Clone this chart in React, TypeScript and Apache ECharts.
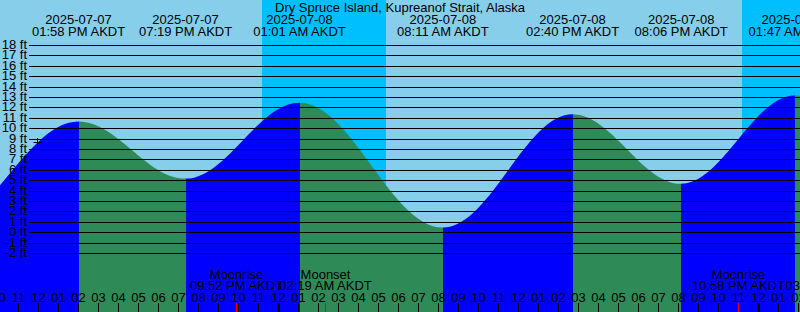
import React, { useEffect, useRef } from 'react';
import * as echarts from 'echarts';

const TITLE = 'Dry Spruce Island, Kupreanof Strait, Alaska';
const ZONE = 'AKDT';
const BASE_DAY = '2025-07-07';

// Tide extremes. The first two and the last one lie outside the window (estimated).
const TIDE_TIMES = [
  '2025-07-07 00:20',
  '2025-07-07 06:58',
  '2025-07-07 13:58',
  '2025-07-07 19:19',
  '2025-07-08 01:01',
  '2025-07-08 08:11',
  '2025-07-08 14:40',
  '2025-07-08 20:06',
  '2025-07-09 01:47',
  '2025-07-09 09:00',
];
const TIDE_FT = [12.0, 0.4, 10.7, 5.2, 12.5, 0.5, 11.4, 4.7, 13.2, -0.3];

const MOON_TIMES = ['2025-07-07 21:52', '2025-07-08 02:19', '2025-07-08 22:58', '2025-07-09 03:38'];
const MOON_EVENTS = ['Moonrise', 'Moonset', 'Moonrise', 'Moonset'];

const NIGHT_START = ['2025-07-07 23:08', '2025-07-08 23:08'];
const NIGHT_END = ['2025-07-08 05:20', '2025-07-09 05:22'];

const NOW_TIME = '2025-07-07 11:55';
const NOW_FT = 8.67;

const FT_TICKS = [-2, -1, 0, 1, 2, 3, 4, 5, 6, 7, 8, 9, 10, 11, 12, 13, 14, 15, 16, 17, 18];
const HOUR_TICKS = Array.from({ length: 41 }, (_, i) => 10 + i); // hours since 2025-07-07 00:00

// scales (hours since BASE_DAY 00:00, feet)
const X_MIN = 10.04;
const X_MAX = 50.04;
const Y_MIN = -7.625;
const Y_MAX = 22.375;

const SKY = '#87ceeb';
const NIGHT = '#00bfff';
const RISING = '#0000ff';
const FALLING = '#2e8b57';
const FONT = '13px "Liberation Sans"';
const GUTTER = 29;
const TICK_LEN = 9;

const toHours = (s: string) => {
  const [d, hm] = s.split(' ');
  const days = Math.round((Date.parse(d + 'T00:00:00Z') - Date.parse(BASE_DAY + 'T00:00:00Z')) / 86400000);
  const [h, m] = hm.split(':').map(Number);
  return days * 24 + h + m / 60;
};
const pad = (n: number) => (n < 10 ? '0' : '') + n;
const clock12 = (s: string) => {
  const [h, m] = s.split(' ')[1].split(':').map(Number);
  const h12 = h % 12 === 0 ? 12 : h % 12;
  return `${pad(h12)}:${pad(m)} ${h < 12 ? 'AM' : 'PM'} ${ZONE}`;
};
const hourLabel = (t: number) => {
  const h = ((t % 24) + 24) % 24;
  return pad(h % 12 === 0 ? 12 : h % 12);
};

const txt = (text: string, x: number, y: number, align: string = 'center') => ({
  type: 'text',
  x,
  y,
  silent: true,
  style: {
    text,
    fill: '#000',
    font: FONT,
    align,
    verticalAlign: 'middle',
    textAlign: align,
    textVerticalAlign: 'middle',
  },
});

function buildOption() {
  const tidePts = TIDE_TIMES.map((s, i) => [toHours(s), TIDE_FT[i]]);
  const segColor = (i: number) => (TIDE_FT[i + 1] > TIDE_FT[i] ? RISING : FALLING);
  const pieces: any[] = [];
  pieces.push({ lt: tidePts[0][0], color: segColor(0) === RISING ? FALLING : RISING });
  for (let i = 0; i < tidePts.length - 1; i++) {
    pieces.push({ gte: tidePts[i][0], lt: tidePts[i + 1][0], color: segColor(i) });
  }
  pieces.push({
    gte: tidePts[tidePts.length - 1][0],
    color: segColor(tidePts.length - 2) === RISING ? FALLING : RISING,
  });

  return {
    animation: false,
    backgroundColor: SKY,
    title: {
      text: TITLE,
      left: 'center',
      top: 1,
      padding: 0,
      textStyle: { fontSize: 13, fontWeight: 'normal', fontFamily: 'Liberation Sans', color: '#000' },
    },
    grid: { left: 0, right: 0, top: 0, bottom: 0 },
    xAxis: { type: 'value', min: X_MIN, max: X_MAX, show: false },
    yAxis: { type: 'value', min: Y_MIN, max: Y_MAX, show: false },
    visualMap: { type: 'piecewise', show: false, dimension: 0, seriesIndex: 1, pieces },
    series: [
      {
        type: 'custom',
        z: 1,
        silent: true,
        data: NIGHT_START.map((s, i) => [toHours(s), toHours(NIGHT_END[i])]),
        renderItem: (_p: any, api: any) => {
          const a = api.coord([api.value(0), Y_MAX]);
          const b = api.coord([api.value(1), Y_MIN]);
          const x0 = Math.round(a[0]);
          const x1 = Math.round(b[0]);
          return { type: 'rect', shape: { x: x0, y: a[1], width: x1 - x0, height: b[1] - a[1] }, style: { fill: NIGHT } };
        },
      },
      {
        type: 'line',
        z: 2,
        silent: true,
        data: tidePts,
        smooth: 0.363,
        smoothMonotone: 'x',
        showSymbol: false,
        lineStyle: { width: 0, opacity: 0 },
        areaStyle: { opacity: 1, origin: 'start' },
      },
      {
        type: 'custom',
        z: 3,
        silent: true,
        data: FT_TICKS.map((v) => [X_MIN, v]),
        renderItem: (_p: any, api: any) => {
          const v = api.value(1);
          const p = api.coord([X_MIN, v]);
          const q = api.coord([X_MAX, v]);
          const y = Math.round(p[1] - 0.5) + 0.5;
          return {
            type: 'group',
            children: [
              { type: 'line', shape: { x1: p[0] + GUTTER, y1: y, x2: q[0], y2: y }, style: { stroke: '#000', lineWidth: 1 } },
              txt(`${v} ft`, p[0] + GUTTER - 2, y - 1, 'right'),
            ],
          };
        },
      },
      {
        type: 'custom',
        z: 4,
        silent: true,
        data: HOUR_TICKS.map((h) => [h, Y_MIN]),
        renderItem: (_p: any, api: any) => {
          const t = api.value(0);
          const p = api.coord([t, Y_MIN]);
          const x = Math.floor(p[0] - 0.5) + 0.5;
          const midnight = t % 24 === 0;
          return {
            type: 'group',
            children: [
              { type: 'line', shape: { x1: x, y1: p[1] - TICK_LEN, x2: x, y2: p[1] }, style: { stroke: '#000', lineWidth: midnight ? 3 : 1 } },
              txt(hourLabel(t), x, p[1] - 14.5),
            ],
          };
        },
      },
      {
        type: 'custom',
        z: 4,
        silent: true,
        data: MOON_TIMES.map((s) => [toHours(s), Y_MIN]),
        renderItem: (params: any, api: any) => {
          const i = params.dataIndex;
          const p = api.coord([api.value(0), Y_MIN]);
          const x = Math.floor(p[0] - 0.5) + 0.5;
          return {
            type: 'group',
            children: [
              { type: 'line', shape: { x1: x, y1: p[1] - TICK_LEN, x2: x, y2: p[1] }, style: { stroke: '#ff0000', lineWidth: 1 } },
              txt(MOON_EVENTS[i], p[0], p[1] - 37.8),
              txt(clock12(MOON_TIMES[i]), p[0], p[1] - 26.2),
            ],
          };
        },
      },
      {
        type: 'custom',
        z: 4,
        silent: true,
        data: tidePts,
        renderItem: (params: any, api: any) => {
          const i = params.dataIndex;
          const p = api.coord([api.value(0), Y_MAX]);
          return {
            type: 'group',
            children: [
              txt(TIDE_TIMES[i].split(' ')[0], p[0], p[1] + 19.5),
              txt(clock12(TIDE_TIMES[i]), p[0], p[1] + 31.2),
            ],
          };
        },
      },
      {
        type: 'custom',
        z: 4,
        silent: true,
        data: [[toHours(NOW_TIME), NOW_FT]],
        renderItem: (_p: any, api: any) => {
          const p = api.coord([api.value(0), api.value(1)]);
          const x = Math.round(p[0] - 0.5) + 0.5;
          const y = Math.round(p[1] - 0.5) + 0.5;
          return {
            type: 'group',
            children: [
              { type: 'line', shape: { x1: x - 4, y1: y, x2: x + 4, y2: y }, style: { stroke: '#000', lineWidth: 1 } },
              { type: 'line', shape: { x1: x, y1: y - 4.5, x2: x, y2: y + 4.5 }, style: { stroke: '#000', lineWidth: 1 } },
            ],
          };
        },
      },
    ],
  };
}

export default function App() {
  const ref = useRef<HTMLDivElement>(null);
  useEffect(() => {
    if (!ref.current) return;
    const chart = echarts.init(ref.current, undefined, { renderer: 'svg' });
    chart.setOption(buildOption() as any);
    return () => chart.dispose();
  }, []);
  return <div ref={ref} style={{ position: 'fixed', left: 0, top: 0, width: 800, height: 312 }} />;
}
